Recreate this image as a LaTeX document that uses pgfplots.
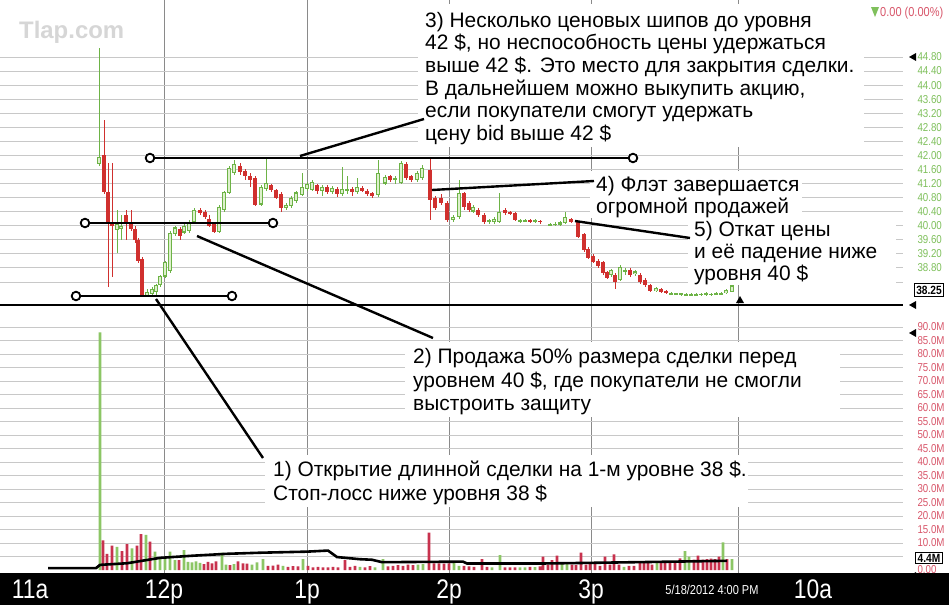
\documentclass[border=0pt]{standalone}
\usepackage{fontspec}
\setmainfont{Liberation Sans}
\newfontfamily\narrow[FakeStretch=0.85]{Liberation Sans}
\usepackage{pgfplots}
\usepackage{pgfplotstable}
\pgfplotsset{compat=1.18}

\definecolor{cgreen}{HTML}{6DB346}
\definecolor{cgreenl}{HTML}{DDF0CC}
\definecolor{cred}{HTML}{D0302E}
\definecolor{vgreen}{HTML}{8CC665}
\definecolor{vred}{HTML}{C8324E}
\definecolor{gridc}{HTML}{C8C8C8}
\definecolor{vgridc}{HTML}{8A8A8A}
\definecolor{tgreen}{HTML}{7FC05C}
\definecolor{tred}{HTML}{D8566A}

\pgfplotstableread{
x o h l c
99 41.75 45.06 41.70 41.95
104 42.01 43.01 40.90 40.96
108 40.96 41.78 38.26 40.08
112 40.11 41.78 38.54 39.99
117 39.88 40.45 39.22 40.05
121 39.90 40.30 39.60 40.00
126 40.30 40.45 39.60 40.10
131 40.11 40.45 39.85 39.90
135 39.90 40.00 39.50 39.59
138 39.59 39.65 38.95 39.00
142 39.05 39.10 37.98 38.00
147 38.03 38.20 38.00 38.11
152 38.05 38.25 38.00 38.20
156 38.10 38.35 38.03 38.32
160 38.30 38.60 38.25 38.58
165 38.55 39.00 38.50 38.97
170 38.70 39.85 38.65 39.80
175 39.75 40.00 39.70 39.95
180 39.90 39.95 39.60 39.70
184 39.80 40.05 39.75 39.99
189 39.85 40.15 39.80 40.10
194 40.10 40.50 40.05 40.45
200 40.45 40.50 40.30 40.35
205 40.40 40.45 40.20 40.25
209 40.20 40.30 39.95 40.00
214 40.05 40.10 39.80 39.82
219 39.82 40.60 39.78 40.53
224 40.45 41.00 40.40 40.96
229 40.93 41.70 40.90 41.64
234 41.50 41.87 41.45 41.75
240 41.70 41.78 41.45 41.53
245 41.55 41.60 41.30 41.40
250 41.42 41.50 41.10 41.30
255 41.35 41.40 40.55 40.60
261 40.60 41.15 40.55 41.10
266 41.05 41.96 41.00 41.22
271 41.15 41.20 40.95 41.02
276 41.02 41.05 40.75 40.80
281 40.90 40.95 40.39 40.50
286 40.50 40.65 40.45 40.60
291 40.55 40.85 40.50 40.80
296 40.70 41.00 40.65 40.95
302 40.87 41.50 40.85 41.10
307 41.05 41.25 41.00 41.20
312 41.02 41.30 40.98 41.24
317 41.15 41.20 40.90 41.00
322 40.98 41.15 40.85 41.10
327 41.10 41.15 40.90 40.95
332 40.95 41.12 40.90 41.08
337 41.05 41.10 40.82 40.90
342 40.90 41.66 40.85 41.05
347 40.98 41.40 40.90 41.05
352 41.05 41.10 40.85 40.95
357 40.95 41.35 40.90 41.10
362 41.08 41.12 40.95 41.00
367 41.00 41.05 40.85 40.90
372 40.92 40.96 40.80 40.85
378 40.87 41.87 40.82 41.50
385 41.20 41.45 41.15 41.39
390 41.40 41.45 41.25 41.30
395 41.30 41.40 41.20 41.36
401 41.22 41.85 41.18 41.78
406 41.75 41.80 41.30 41.35
411 41.40 41.45 41.25 41.30
417 41.30 41.55 41.25 41.50
422 41.36 41.73 41.30 41.64
430 41.59 41.96 40.16 40.73
435 40.79 40.85 40.45 40.50
441 40.79 40.90 40.60 40.65
447 40.65 40.70 40.10 40.16
453 40.16 40.30 40.11 40.25
459 40.25 41.30 40.20 40.93
464 40.93 40.96 40.45 40.53
469 40.65 40.70 40.40 40.45
473 40.40 40.60 40.35 40.53
478 40.45 40.50 40.25 40.30
484 40.30 40.35 40.05 40.11
489 40.10 40.20 40.05 40.16
494 40.11 40.25 40.05 40.20
499 40.11 40.93 40.08 40.39
505 40.45 40.50 40.30 40.36
510 40.39 40.42 40.30 40.33
515 40.36 40.40 40.12 40.16
520 40.11 40.20 40.08 40.16
525 40.12 40.20 40.10 40.16
530 40.16 40.20 40.08 40.12
535 40.11 40.20 40.08 40.15
540 40.14 40.16 40.05 40.10
550 40.00 40.08 39.98 40.05
555 40.01 40.10 39.99 40.06
560 40.03 40.12 40.00 40.10
565 40.08 40.39 40.05 40.25
571 40.20 40.22 40.08 40.10
578 40.11 40.14 39.65 39.68
584 39.75 39.80 39.25 39.30
588 39.35 39.40 39.05 39.08
593 39.15 39.20 38.93 38.97
598 39.00 39.05 38.80 38.85
603 38.97 39.00 38.60 38.65
607 38.68 38.72 38.48 38.51
611 38.60 38.78 38.55 38.74
615 38.60 38.65 38.20 38.40
620 38.46 38.88 38.42 38.83
625 38.70 38.80 38.60 38.74
630 38.74 38.80 38.55 38.60
635 38.62 38.75 38.58 38.70
640 38.60 38.65 38.35 38.40
645 38.45 38.50 38.25 38.30
650 38.30 38.35 38.10 38.13
656 38.14 38.27 38.10 38.23
661 38.20 38.22 38.08 38.10
666 38.15 38.18 38.05 38.10
671 38.05 38.10 38.03 38.08
676 38.04 38.09 38.02 38.07
681 38.03 38.09 38.00 38.07
686 38.02 38.08 38.00 38.05
691 38.02 38.08 38.00 38.05
696 38.02 38.08 38.00 38.06
701 38.03 38.09 38.00 38.06
706 38.03 38.10 38.01 38.07
711 38.03 38.09 38.00 38.06
716 38.04 38.12 38.02 38.08
721 38.05 38.12 38.03 38.09
726 38.08 38.20 38.06 38.17
732 38.12 38.37 38.10 38.30
}\candles

\pgfplotstableread{
x v g
100 88 1
103 11 0
107 6 0
112 9 0
117 8.6 1
122 7 0
127 9.6 0
132 8 1
137 9 0
141 13.3 0
146 13 1
150 10.5 0
155 6.8 1
160 4.3 1
165 5 1
170 6.8 1
175 3.7 1
179 3.7 0
184 7.4 1
188 3 1
192 2.8 1
196 3.2 1
200 2.6 1
204 2.2 0
208 3 0
212 2.5 0
216 3.2 0
222 6.4 1
226 2 1
230 1.8 0
234 2.2 1
238 3.2 0
243 2.5 0
247 2.4 0
252 2 1
257 2.8 1
263 4 1
268 1.5 0
273 1.6 0
278 2 0
283 1.5 1
288 1.2 0
293 1.4 0
298 1.3 0
303 4 1
308 1.5 0
313 1 0
318 1.2 0
323 1 0
328 1 0
333 1.2 0
338 1 0
345 3.7 0
350 1.2 0
355 1.5 0
360 1.2 1
365 1 0
370 1.4 0
375 1 1
383 4 1
388 1.3 0
393 1.5 0
398 1.8 0
403 1.5 0
408 2 0
413 1.8 0
418 2 1
423 2.2 1
429 13.8 0
434 2.5 0
439 2.5 0
444 2.4 0
449 2.5 0
454 3.3 1
459 1.5 1
464 1.5 0
469 1.3 0
474 1.2 0
482 4 0
487 1.2 0
492 1 1
500 5.5 1
505 1 0
510 1 0
515 1 0
520 1 1
525 1 1
530 1.2 0
535 1.1 1
540 1.3 0
543 5 0
548 2 0
552 3.7 0
557 5.3 0
562 2.5 1
567 2.2 1
572 2 0
576 1.8 0
581 6.4 0
586 2 0
590 2.5 0
595 2.2 0
600 1.5 0
605 5 0
610 2 0
614 5.8 0
619 2 0
624 1.2 1
629 1.5 0
634 1.5 0
640 3 0
644 3.2 0
648 3 0
652 2 0
657 3 1
661 3.3 0
665 3 0
670 3.2 0
675 3 0
680 4.3 0
685 7 1
689 5 1
694 3.8 0
698 5.3 0
703 3.8 0
707 4 0
711 4.2 0
715 4 0
719 5 0
723 10.2 1
727 4 0
732 4 1
}\vol

\pgfplotstableread{
x v
48 0.7
96 0.7
100 1.9
127 2.5
160 4.5
193 5.3
227 6.0
260 6.4
307 6.8
328 7.2
337 4.8
360 4.0
372 3.8
382 2.9
463 3.1
467 2.4
540 2.4
600 2.7
727 3.4
}\volavg

\newcommand\ann{\fontsize{21}{24}\selectfont}
\newcommand\tickf{\narrow\fontsize{11.5}{13}\selectfont}

\begin{document}
\begin{tikzpicture}
\path[use as bounding box, fill=white] (0bp,0bp) rectangle (949bp,-605bp);
\fill[black] (0bp,-573bp) rectangle (949bp,-605bp);

% ---------- price panel ----------
\begin{axis}[
  at={(0bp,-305bp)}, anchor=south west,
  scale only axis, width=903bp, height=305bp,
  xmin=0, xmax=903, ymin=37.744, ymax=46.42,
  axis line style={draw=none},
  major tick length=0pt,
  xtick={164,307,449,591,738}, xticklabels={},
  ytick={38.4,38.8,39.2,39.6,40.0,40.4,40.8,41.2,41.6,42.0,42.4,42.8,43.2,43.6,44.0,44.4,44.8},
  yticklabels={,38.80,39.20,39.60,40.00,40.40,40.80,41.20,41.60,42.00,42.40,42.80,43.20,43.60,44.00,44.40,44.80},
  yticklabel pos=right,
  yticklabel style={font=\tickf, text=tgreen, anchor=west, xshift=11bp},
  xmajorgrids, ymajorgrids,
  x grid style={vgridc, line width=0.8bp},
  y grid style={gridc, line width=0.8bp},
  clip=false,
]
% wicks
\addplot[draw=none, mark=none, restrict expr to domain={\thisrow{c}-\thisrow{o}}{0:100},
  error bars/.cd, y dir=both, y explicit, error mark=none,
  error bar style={draw=cgreen, line width=0.9bp}]
  table[x=x, y expr={(\thisrow{h}+\thisrow{l})/2}, y error expr={(\thisrow{h}-\thisrow{l})/2}] {\candles};
\addplot[draw=none, mark=none, restrict expr to domain={\thisrow{c}-\thisrow{o}}{-100:-0.0001},
  error bars/.cd, y dir=both, y explicit, error mark=none,
  error bar style={draw=cred, line width=0.9bp}]
  table[x=x, y expr={(\thisrow{h}+\thisrow{l})/2}, y error expr={(\thisrow{h}-\thisrow{l})/2}] {\candles};
% bodies
\addplot[draw=none, mark=none, restrict expr to domain={\thisrow{c}-\thisrow{o}}{0:100},
  error bars/.cd, y dir=both, y explicit, error mark=none,
  error bar style={draw=cgreen, line width=4.8bp}]
  table[x=x, y expr={(\thisrow{o}+\thisrow{c})/2}, y error expr={max(abs(\thisrow{c}-\thisrow{o})/2,0.025)}] {\candles};
\addplot[draw=none, mark=none, restrict expr to domain={\thisrow{c}-\thisrow{o}}{0:100},
  error bars/.cd, y dir=both, y explicit, error mark=none,
  error bar style={draw=cgreenl, line width=2.2bp}]
  table[x=x, y expr={(\thisrow{o}+\thisrow{c})/2}, y error expr={max(abs(\thisrow{c}-\thisrow{o})/2-0.035,0)}] {\candles};
\addplot[draw=none, mark=none, restrict expr to domain={\thisrow{c}-\thisrow{o}}{-100:-0.0001},
  error bars/.cd, y dir=both, y explicit, error mark=none,
  error bar style={draw=cred, line width=4.8bp}]
  table[x=x, y expr={(\thisrow{o}+\thisrow{c})/2}, y error expr={max(abs(\thisrow{c}-\thisrow{o})/2,0.025)}] {\candles};
\end{axis}

% ---------- volume panel ----------
\begin{axis}[
  at={(0bp,-573bp)}, anchor=south west,
  scale only axis, width=903bp, height=268bp,
  xmin=0, xmax=903, ymin=-1.11, ymax=98.15,
  axis line style={draw=none},
  major tick length=0pt,
  xtick={164,307,449,591,738}, xticklabels={12p,1p,2p,3p,{}},
  extra x ticks={30,813}, extra x tick labels={11a,10a},
  extra x tick style={grid=none},
  xticklabel style={text=white, font=\narrow\fontsize{27}{29}\selectfont, anchor=base, yshift=-25bp},
  ytick={5,10,15,20,25,30,35,40,45,50,55,60,65,70,75,80,85,90},
  yticklabels={,10.0M,15.0M,20.0M,25.0M,30.0M,35.0M,40.0M,45.0M,50.0M,55.0M,60.0M,65.0M,70.0M,75.0M,80.0M,85.0M,90.0M},
  extra y ticks={0}, extra y tick labels={0.00}, extra y tick style={grid=none},
  yticklabel pos=right,
  yticklabel style={font=\tickf, text=tred, anchor=west, xshift=11bp},
  xmajorgrids, ymajorgrids,
  x grid style={vgridc, line width=0.8bp},
  y grid style={gridc, line width=0.8bp},
  clip=false,
]
\addplot[ybar, bar width=2.6bp, bar shift=0pt, fill=vgreen, draw=none,
  restrict expr to domain={\thisrow{g}}{0.5:1.5}] table[x=x, y=v] {\vol};
\addplot[ybar, bar width=2.6bp, bar shift=0pt, fill=vred, draw=none,
  restrict expr to domain={\thisrow{g}}{-0.5:0.5}] table[x=x, y=v] {\vol};
\addplot[black, line width=2.6bp, mark=none] table[x=x, y=v] {\volavg};
\end{axis}

% ---------- annotations ----------
\begin{scope}[x=1bp, y=-1bp]
\draw[black, line width=1.8bp] (0,305) -- (903,305);
% markers on the right
\fill[black] (909,57) -- (916,53) -- (916,61) -- cycle;
\fill[black] (909,305) -- (916,301) -- (916,309) -- cycle;
\fill[black] (909,333) -- (916,329) -- (916,337) -- cycle;
\fill[black] (909,576) -- (916,572) -- (916,580) -- cycle;
\fill[black] (740,296) -- (736,303) -- (744,303) -- cycle;
\node[draw=black, line width=1bp, fill=white, inner sep=1.8bp, font=\narrow\fontsize{12}{13}\selectfont\bfseries] at (929,290) {38.25};
\node[draw=black, line width=1bp, fill=white, inner sep=1.8bp, font=\narrow\fontsize{12}{13}\selectfont\bfseries] at (929,558) {4.4M};
% top right change
\fill[tgreen] (871,7) -- (879,7) -- (875,17) -- cycle;
\node[anchor=west, inner sep=0, text=tred, font=\narrow\fontsize{13}{14}\selectfont] at (880,13) {0.00 (0.00\%)};
% watermark
\node[anchor=west, inner sep=0, text=black!16, font=\fontsize{24}{26}\selectfont\bfseries] at (19,32) {Tlap.com};
% date label
\node[inner sep=0, text=white, font=\narrow\fontsize{13}{14}\selectfont] at (712,590) {5/18/2012 4:00 PM};

% white boxes
\fill[white] (418,4) rectangle (864,147);
\fill[white] (590,171) rectangle (802,218);
\fill[white] (688,218) rectangle (896,285);
\fill[white] (405,342) rectangle (840,417);
\fill[white] (265,455) rectangle (748,507);

% texts
\node[anchor=base west, inner sep=0, font=\ann] at (425,27) {3) Несколько ценовых шипов до уровня};
\node[anchor=base west, inner sep=0, font=\ann] at (425,49.7) {42 \$, но неспособность цены удержаться};
\node[anchor=base west, inner sep=0, font=\ann] at (425,72.4) {выше 42 \$. Это место для закрытия сделки.};
\node[anchor=base west, inner sep=0, font=\ann] at (425,95.1) {В дальнейшем можно выкупить акцию,};
\node[anchor=base west, inner sep=0, font=\ann] at (425,117.8) {если покупатели смогут удержать};
\node[anchor=base west, inner sep=0, font=\ann] at (425,140.5) {цену bid выше 42 \$};

\node[anchor=base west, inner sep=0, font=\ann] at (596,191.5) {4) Флэт завершается};
\node[anchor=base west, inner sep=0, font=\ann] at (596,213.5) {огромной продажей};

\node[anchor=base west, inner sep=0, font=\ann] at (694,236.5) {5) Откат цены};
\node[anchor=base west, inner sep=0, font=\ann] at (694,258.5) {и её падение ниже};
\node[anchor=base west, inner sep=0, font=\ann] at (694,280.5) {уровня 40 \$};

\node[anchor=base west, inner sep=0, font=\ann] at (413,363.5) {2) Продажа 50\% размера сделки перед};
\node[anchor=base west, inner sep=0, font=\ann] at (413,387) {уровнем 40 \$, где покупатели не смогли};
\node[anchor=base west, inner sep=0, font=\ann] at (413,410.5) {выстроить защиту};

\node[anchor=base west, inner sep=0, font=\ann] at (273,476.5) {1) Открытие длинной сделки на 1-м уровне 38 \$.};
\node[anchor=base west, inner sep=0, font=\ann] at (273,500.5) {Стоп-лосс ниже уровня 38 \$};

% level lines and pointers
\begin{scope}[line width=2.4bp, black]
\draw (150,158) -- (633,158);
\draw (85,223) -- (273,223);
\draw (76,296) -- (232,296);
\draw (300,156) -- (424,119);
\draw (432,190) -- (594,181);
\draw (575,221) -- (690,238);
\draw (197,236) -- (433,338);
\draw (156,299) -- (263,458);
\end{scope}
\begin{scope}[line width=1.8bp, draw=black, fill=white]
\filldraw (150,158) circle (4.3);
\filldraw (633,158) circle (4.3);
\filldraw (85,223) circle (4.3);
\filldraw (273,223) circle (4.3);
\filldraw (76,296) circle (4.3);
\filldraw (232,296) circle (4.3);
\end{scope}
\end{scope}
\end{tikzpicture}
\end{document}
